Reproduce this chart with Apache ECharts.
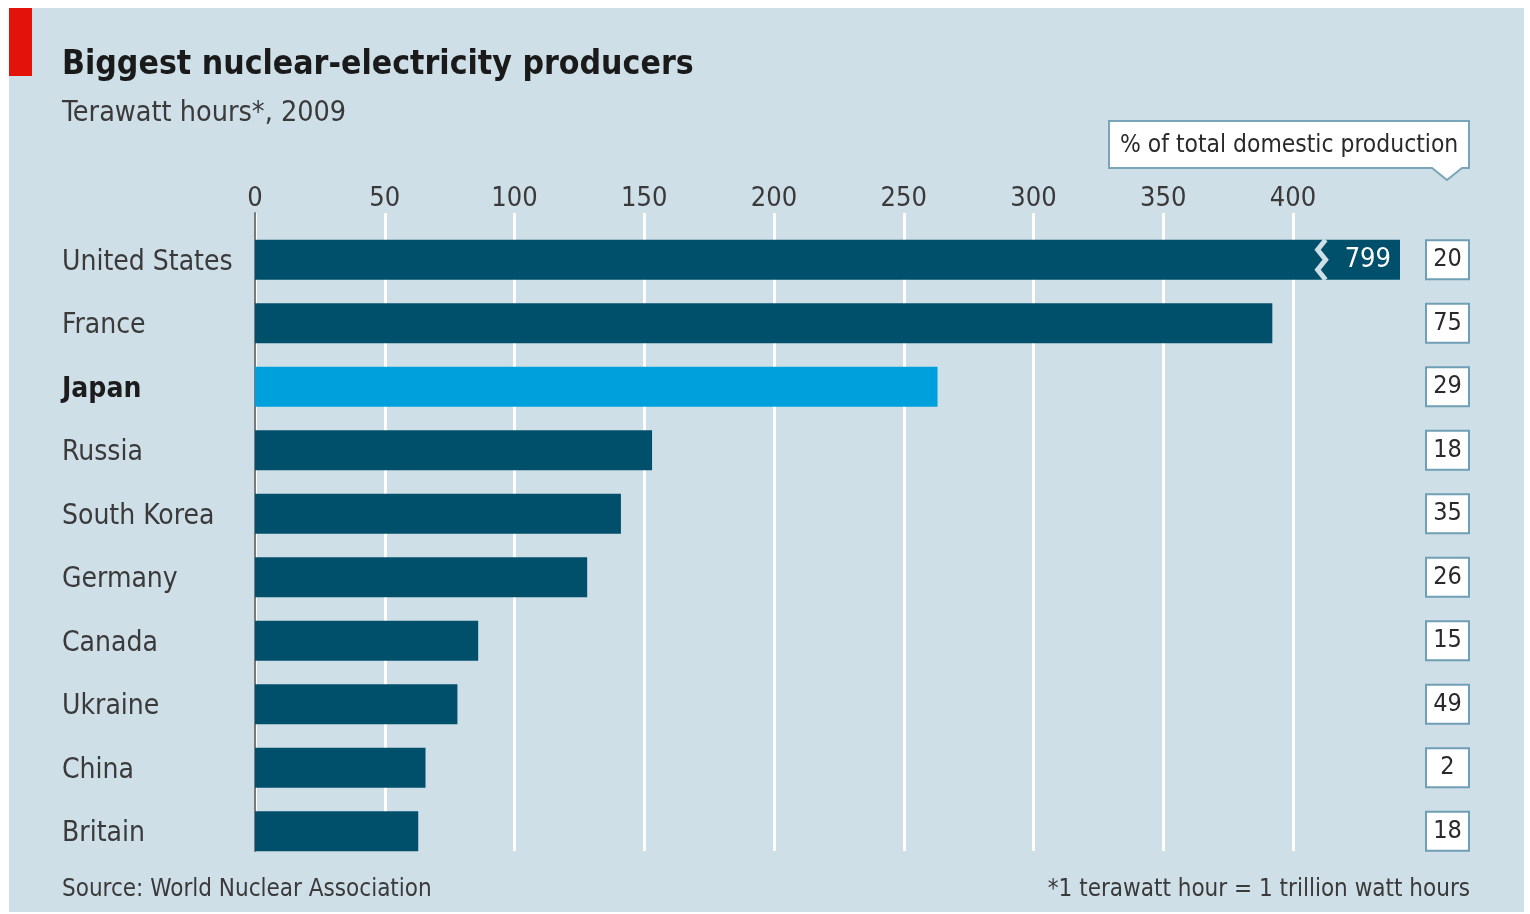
<!DOCTYPE html>
<html>
<head>
<meta charset="utf-8">
<script src="https://cdn.jsdelivr.net/npm/echarts@6/dist/echarts.min.js"></script>
<style>
html,body{margin:0;padding:0;background:#fff;}
#panel{position:absolute;left:9px;top:8px;width:1515px;height:904px;background:#cfdfe7;}
#chart{position:absolute;left:0;top:0;width:1530px;height:914px;}
</style>
</head>
<body>
<div id="panel"></div>
<div id="chart"></div>
<script>
// ---- data ----
const countries = ['United States','France','Japan','Russia','South Korea','Germany','Canada','Ukraine','China','Britain'];
const terawattHours = [799, 392, 263, 153, 141, 128, 86, 78, 65.7, 62.9];
const sharePct = [20, 75, 29, 18, 35, 26, 15, 49, 2, 18];
const highlight = 'Japan';
const xTicks = [0, 50, 100, 150, 200, 250, 300, 350, 400];

// ---- config ----
const FONT = "'DejaVu Sans Condensed','Liberation Sans Narrow','Noto Sans',sans-serif";
const BG = '#cfdfe7';
const DARK = '#004f6b';
const LIGHT = '#00a0dc';
const axisCap = 441.2;   // visible end of the axis for the truncated bar
const breakAt = 411;     // where the truncated bar is torn

const plotted = terawattHours.map(v => Math.min(v, axisCap));

const chart = echarts.init(document.getElementById('chart'), null, {renderer:'canvas'});

const option = {
  animation: false,
  backgroundColor: 'transparent',
  textStyle: {fontFamily: FONT},
  grid: [
    {left: 255, width: 1145, top: 228, height: 635, containLabel: false},
    {left: 255, width: 1038, top: 213, height: 638, containLabel: false}
  ],
  xAxis: [
    {gridIndex: 0, type: 'value', min: 0, max: axisCap, show: false},
    {gridIndex: 1, type: 'value', min: 0, max: xTicks[xTicks.length-1], interval: 50, position: 'top',
     axisLine: {show: false}, axisTick: {show: false},
     splitLine: {show: true, lineStyle: {color: '#ffffff', width: 3}},
     axisLabel: {fontFamily: FONT, fontSize: 27, color: '#3a3a3a', margin: 1}}
  ],
  yAxis: [
    {gridIndex: 0, type: 'category', data: countries, inverse: true,
     axisLine: {show: false}, axisTick: {show: false}, splitLine: {show: false},
     axisLabel: {margin: 193, align: 'left', fontFamily: FONT, fontSize: 28, color: '#3a3a3a', padding: [5, 0, 0, 0],
       formatter: v => v === highlight ? '{b|' + v + '}' : v,
       rich: {b: {fontFamily: FONT, fontSize: 28, fontWeight: 'bold', color: '#1c1c1c'}}}},
    {gridIndex: 0, type: 'category', data: countries, inverse: true, position: 'right',
     axisLine: {show: false}, axisTick: {show: false}, splitLine: {show: false},
     axisLabel: {margin: 27,
       formatter: (v, i) => '{b|' + sharePct[i] + '}',
       rich: {b: {fontFamily: FONT, fontSize: 25, color: '#2a2a2a', width: 41, height: 37, lineHeight: 37,
                  align: 'center', backgroundColor: '#ffffff', borderColor: '#6f9fb4', borderWidth: 2}}}},
    {gridIndex: 1, type: 'value', min: 0, max: 1,
     axisLine: {show: true, lineStyle: {color: '#7a7a7a', width: 2}},
     axisTick: {show: false}, axisLabel: {show: false}, splitLine: {show: false}}
  ],
  series: [
    {type: 'bar', xAxisIndex: 0, yAxisIndex: 0, barWidth: 40, z: 3,
     data: plotted.map((v, i) => ({
       value: v,
       itemStyle: {color: countries[i] === highlight ? LIGHT : DARK},
       label: terawattHours[i] > axisCap ? {show: true, position: 'insideRight', distance: 9,
         formatter: String(terawattHours[i]), color: '#ffffff', fontFamily: FONT, fontSize: 27} : {show: false}
     }))},
    {type: 'custom', xAxisIndex: 0, yAxisIndex: 0, z: 4,
     data: terawattHours.map((v, i) => v > axisCap ? [breakAt, i] : null).filter(d => d),
     renderItem: (params, api) => {
       const c = api.coord([api.value(0), api.value(1)]);
       const h = 40;
       const top = c[1] - h / 2;
       const pts = [];
       const steps = 4;
       for (let k = 0; k <= steps; k++) {
         pts.push([c[0] + (k % 2 === 0 ? 4 : -4), top + h * k / steps]);
       }
       return {type: 'polyline', shape: {points: pts}, style: {stroke: BG, lineWidth: 5, fill: null}};
     }}
  ],
  graphic: [
    {type: 'rect', left: 9, top: 8, shape: {width: 23, height: 68}, style: {fill: '#e3120b'}},
    {type: 'text', left: 62, top: 48, style: {text: 'Biggest nuclear-electricity producers', fontFamily: FONT,
      fontSize: 33.5, fontWeight: 'bold', fill: '#1a1a1a'}},
    {type: 'text', left: 62, top: 99, style: {text: 'Terawatt hours*, 2009', fontFamily: FONT,
      fontSize: 28.5, fill: '#3a3a3a'}},
    {type: 'polygon', shape: {points: [[1109,121],[1469,121],[1469,168],[1462,168],[1447,180],[1432,168],[1109,168]]},
      style: {fill: '#ffffff', stroke: '#7aa5b8', lineWidth: 2}},
    {type: 'text', left: 1120, top: 134, style: {text: '% of total domestic production', fontFamily: FONT,
      fontSize: 24.4, fill: '#2a2a2a'}},
    {type: 'text', left: 62, top: 878, style: {text: 'Source: World Nuclear Association', fontFamily: FONT,
      fontSize: 24, fill: '#3a3a3a'}},
    {type: 'text', right: 60, top: 878, style: {text: '*1 terawatt hour = 1 trillion watt hours', fontFamily: FONT,
      fontSize: 24, fill: '#3a3a3a'}}
  ]
};
chart.setOption(option);
</script>
</body>
</html>
